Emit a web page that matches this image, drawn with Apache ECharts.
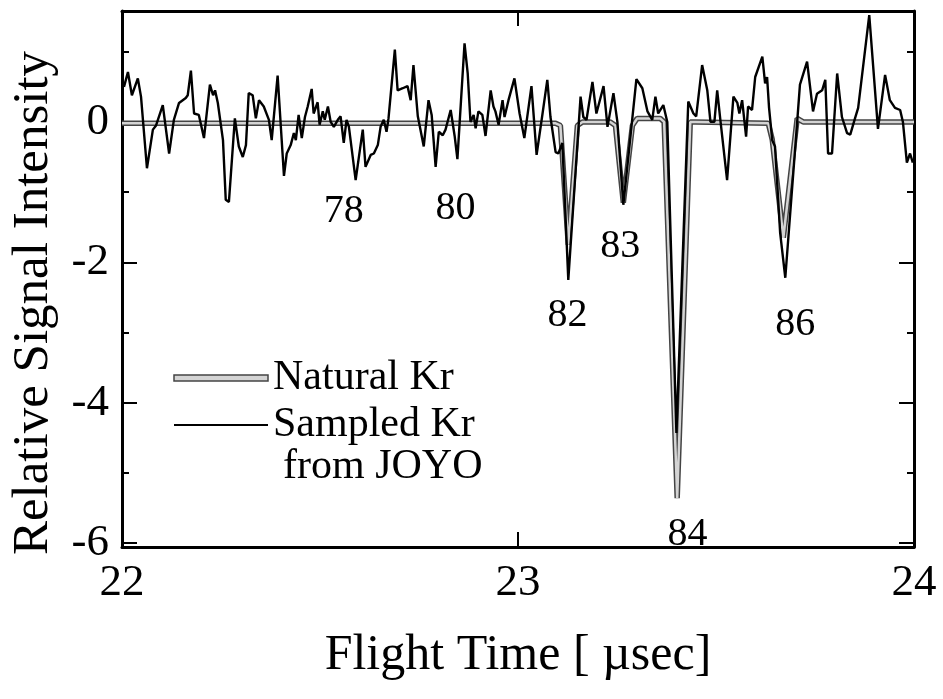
<!DOCTYPE html>
<html>
<head>
<meta charset="utf-8">
<title>Kr flight time spectrum</title>
<script src="https://cdn.jsdelivr.net/npm/echarts@6/dist/echarts.min.js"></script>
<style>
html, body { margin: 0; padding: 0; background: #fff; }
#chart { width: 943px; height: 699px; }
</style>
</head>
<body>
<div id="chart"></div>
<script>
// sampled Kr from JOYO: flight time [usec] and relative signal
const sampledTime = [
  22.005, 22.015, 22.025, 22.040, 22.048, 22.063, 22.078, 22.086, 22.103, 22.119,
  22.131, 22.144, 22.161, 22.166, 22.174, 22.182, 22.194, 22.207, 22.222, 22.230,
  22.235, 22.242, 22.255, 22.262, 22.270, 22.285, 22.295, 22.305, 22.313, 22.320,
  22.330, 22.338, 22.346, 22.358, 22.371, 22.378, 22.393, 22.409, 22.416, 22.426,
  22.434, 22.439, 22.446, 22.454, 22.462, 22.469, 22.479, 22.484, 22.494, 22.499,
  22.507, 22.512, 22.520, 22.527, 22.535, 22.545, 22.552, 22.560, 22.567, 22.573,
  22.590, 22.608, 22.615, 22.628, 22.636, 22.646, 22.653, 22.661, 22.668, 22.673,
  22.689, 22.696, 22.709, 22.721, 22.729, 22.736, 22.747, 22.762, 22.774, 22.782,
  22.792, 22.800, 22.810, 22.817, 22.830, 22.840, 22.847, 22.852, 22.865, 22.873,
  22.880, 22.888, 22.893, 22.900, 22.910, 22.918, 22.931, 22.938, 22.943, 22.951,
  22.961, 22.966, 22.976, 22.991, 23.004, 23.016, 23.034, 23.047, 23.062, 23.074,
  23.082, 23.095, 23.102, 23.112, 23.127, 23.158, 23.165, 23.173, 23.188, 23.198,
  23.216, 23.226, 23.241, 23.251, 23.266, 23.299, 23.314, 23.327, 23.339, 23.347,
  23.354, 23.367, 23.377, 23.400, 23.430, 23.443, 23.450, 23.465, 23.478, 23.486,
  23.496, 23.503, 23.511, 23.528, 23.544, 23.554, 23.559, 23.566, 23.576, 23.581,
  23.591, 23.599, 23.617, 23.624, 23.629, 23.634, 23.642, 23.649, 23.662, 23.675,
  23.705, 23.712, 23.730, 23.745, 23.755, 23.768, 23.776, 23.783, 23.793, 23.806,
  23.818, 23.831, 23.839, 23.851, 23.859, 23.887, 23.909, 23.927, 23.939, 23.952,
  23.965, 23.972, 23.982, 23.990, 23.997
];
const sampledSignal = [
  0.50, 0.71, 0.38, 0.62, 0.36, -0.66, -0.11, -0.05, 0.24, -0.45,
  0.03, 0.27, 0.34, 0.38, 0.73, 0.12, 0.10, -0.23, 0.53, 0.38,
  0.45, 0.27, -0.26, -1.11, -1.14, 0.05, -0.35, -0.50, -0.33, 0.41,
  0.38, 0.05, 0.31, 0.22, 0.03, -0.26, 0.66, -0.77, -0.45, -0.33,
  -0.16, -0.26, 0.10, -0.23, 0.07, 0.22, 0.47, 0.12, 0.28, -0.04,
  0.15, 0.03, 0.22, 0.00, -0.07, 0.03, 0.08, -0.30, 0.03, -0.07,
  -0.83, -0.11, -0.64, -0.47, -0.45, -0.33, -0.07, 0.03, -0.14, 0.05,
  1.03, 0.45, 0.48, 0.51, 0.31, 0.81, 0.08, -0.35, 0.31, 0.10,
  -0.64, -0.14, -0.19, -0.11, 0.17, -0.20, -0.53, -0.07, 1.12, 0.69,
  0.00, 0.10, -0.09, 0.15, 0.10, -0.20, 0.45, 0.22, 0.15, -0.04,
  0.31, 0.07, 0.31, 0.62, 0.12, -0.23, 0.51, -0.47, 0.12, 0.60,
  0.07, -0.43, -0.45, -0.30, -2.25, 0.36, 0.07, 0.03, 0.57, 0.12,
  0.51, -0.07, 0.41, 0.00, -1.18, 0.61, 0.48, 0.15, 0.03, 0.36,
  0.12, 0.24, 0.00, -4.43, 0.29, 0.12, 0.08, 0.81, 0.45, 0.00,
  0.00, 0.45, 0.03, -0.83, 0.36, 0.27, 0.12, 0.31, -0.21, 0.22,
  0.17, 0.64, 0.93, 0.55, 0.64, 0.20, -0.26, -0.35, -1.58, -2.22,
  0.00, 0.53, 0.86, 0.15, 0.40, 0.45, 0.60, -0.45, -0.45, 0.69,
  0.07, -0.16, -0.18, 0.05, 0.20, 1.52, -0.10, 0.67, 0.31, 0.20,
  0.17, 0.00, -0.58, -0.45, -0.58
];

// natural Kr reference curve
const naturalTime = [
  22.000, 23.095, 23.107, 23.127, 23.150, 23.163, 23.233, 23.246, 23.266, 23.289, 23.301,
  23.359, 23.369, 23.402, 23.435, 23.448, 23.632, 23.642, 23.670, 23.705, 23.720, 24.000
];
const naturalSignal = [
  -0.02, -0.02, -0.05, -1.75, -0.05, 0.00, 0.00, -0.05, -1.15, -0.05, 0.05,
  0.05, 0.00, -5.36, 0.00, 0.00, -0.02, -0.25, -1.65, 0.05, 0.00, 0.00
];

// mass number labels under the dips
const peakNames = ['78', '80', '82', '83', '84', '86'];
const peakTime = [22.560, 22.842, 23.125, 23.258, 23.428, 23.700];
const peakLevel = [-1.28, -1.23, -2.76, -1.77, -5.87, -2.89];

const xTicks = [22, 23, 24];
const yMajor = [-6, -4, -2, 0];
const yMinor = [-5, -3, -1, 1];

const serif = 'Liberation Serif';

function pairs(xs, ys) {
  return xs.map((x, i) => [x, ys[i]]);
}

const myChart = echarts.init(document.getElementById('chart'));

const frameLine = { show: true, onZero: false, lineStyle: { color: '#000', width: 3 } };

const yAxisBase = {
  type: 'value',
  min: -6.055,
  max: 1.58,
  splitLine: { show: false },
  axisLine: frameLine
};

const option = {
  backgroundColor: '#fff',
  animation: false,
  grid: { left: 121, right: 29, top: 11, bottom: 152 },
  legend: {
    orient: 'vertical',
    left: 173,
    top: 356,
    padding: 0,
    itemWidth: 94,
    itemHeight: 6,
    itemGap: 3,
    textStyle: { fontFamily: serif, fontSize: 42, lineHeight: 44, color: '#000' },
    data: [
      { name: 'Natural Kr', icon: 'rect', itemStyle: { color: '#d4d4d4', borderColor: '#444', borderWidth: 1.5 } },
      { name: 'Sampled Kr', itemStyle: { opacity: 0 } }
    ]
  },
  graphic: [
    {
      type: 'text',
      left: 283,
      top: 446,
      style: { text: 'from JOYO', font: '42px "Liberation Serif"', fill: '#000' }
    }
  ],
  xAxis: [
    {
      type: 'value',
      min: 22,
      max: 24,
      interval: 1,
      position: 'bottom',
      name: 'Flight Time [ \u00b5sec]',
      nameLocation: 'middle',
      nameGap: 84,
      nameTextStyle: { fontFamily: serif, fontSize: 50, color: '#000' },
      axisLine: frameLine,
      axisTick: { inside: true, length: 15, lineStyle: { color: '#000', width: 2 } },
      axisLabel: {
        margin: 14,
        fontFamily: serif,
        fontSize: 45,
        color: '#000',
        showMinLabel: true,
        showMaxLabel: true,
        customValues: xTicks
      },
      splitLine: { show: false }
    },
    {
      type: 'value',
      min: 22,
      max: 24,
      interval: 1,
      position: 'top',
      axisLine: frameLine,
      axisTick: { inside: true, length: 15, lineStyle: { color: '#000', width: 2 } },
      axisLabel: { show: false },
      splitLine: { show: false }
    }
  ],
  yAxis: [
    Object.assign({}, yAxisBase, {
      position: 'left',
      name: 'Relative Signal Intensity',
      nameLocation: 'middle',
      nameGap: 63,
      nameTextStyle: { fontFamily: serif, fontSize: 51, color: '#000', padding: [0, 48, 0, 0] },
      axisTick: { inside: true, length: 15, customValues: yMajor, lineStyle: { color: '#000', width: 2 } },
      axisLabel: { margin: 13, fontFamily: serif, fontSize: 45, color: '#000', customValues: yMajor }
    }),
    Object.assign({}, yAxisBase, {
      position: 'left',
      axisLine: { show: false },
      axisTick: { inside: true, length: 7, customValues: yMinor, lineStyle: { color: '#000', width: 2 } },
      axisLabel: { show: false }
    }),
    Object.assign({}, yAxisBase, {
      position: 'right',
      axisTick: { inside: true, length: 15, customValues: yMajor, lineStyle: { color: '#000', width: 2 } },
      axisLabel: { show: false }
    }),
    Object.assign({}, yAxisBase, {
      position: 'right',
      axisLine: { show: false },
      axisTick: { inside: true, length: 7, customValues: yMinor, lineStyle: { color: '#000', width: 2 } },
      axisLabel: { show: false }
    })
  ],
  series: [
    {
      // dark edge of the hollow natural Kr line
      name: 'Natural Kr edge',
      type: 'line',
      data: pairs(naturalTime, naturalSignal),
      symbol: 'none',
      lineStyle: { color: '#444', width: 5.5 },
      z: 2
    },
    {
      name: 'Natural Kr',
      type: 'line',
      data: pairs(naturalTime, naturalSignal),
      symbol: 'none',
      lineStyle: { color: '#d4d4d4', width: 2.5 },
      z: 3
    },
    {
      name: 'Sampled Kr',
      type: 'line',
      data: pairs(sampledTime, sampledSignal),
      symbol: 'none',
      lineStyle: { color: '#000', width: 2.4 },
      z: 4
    },
    {
      name: 'mass',
      type: 'scatter',
      data: peakTime.map((t, i) => ({ name: peakNames[i], value: [t, peakLevel[i]] })),
      symbolSize: 0,
      silent: true,
      itemStyle: { opacity: 1 },
      label: {
        show: true,
        position: 'inside',
        formatter: (p) => p.name,
        fontFamily: serif,
        fontSize: 40,
        color: '#000',
        opacity: 1
      },
      z: 5
    }
  ]
};

myChart.setOption(option);
</script>
</body>
</html>
